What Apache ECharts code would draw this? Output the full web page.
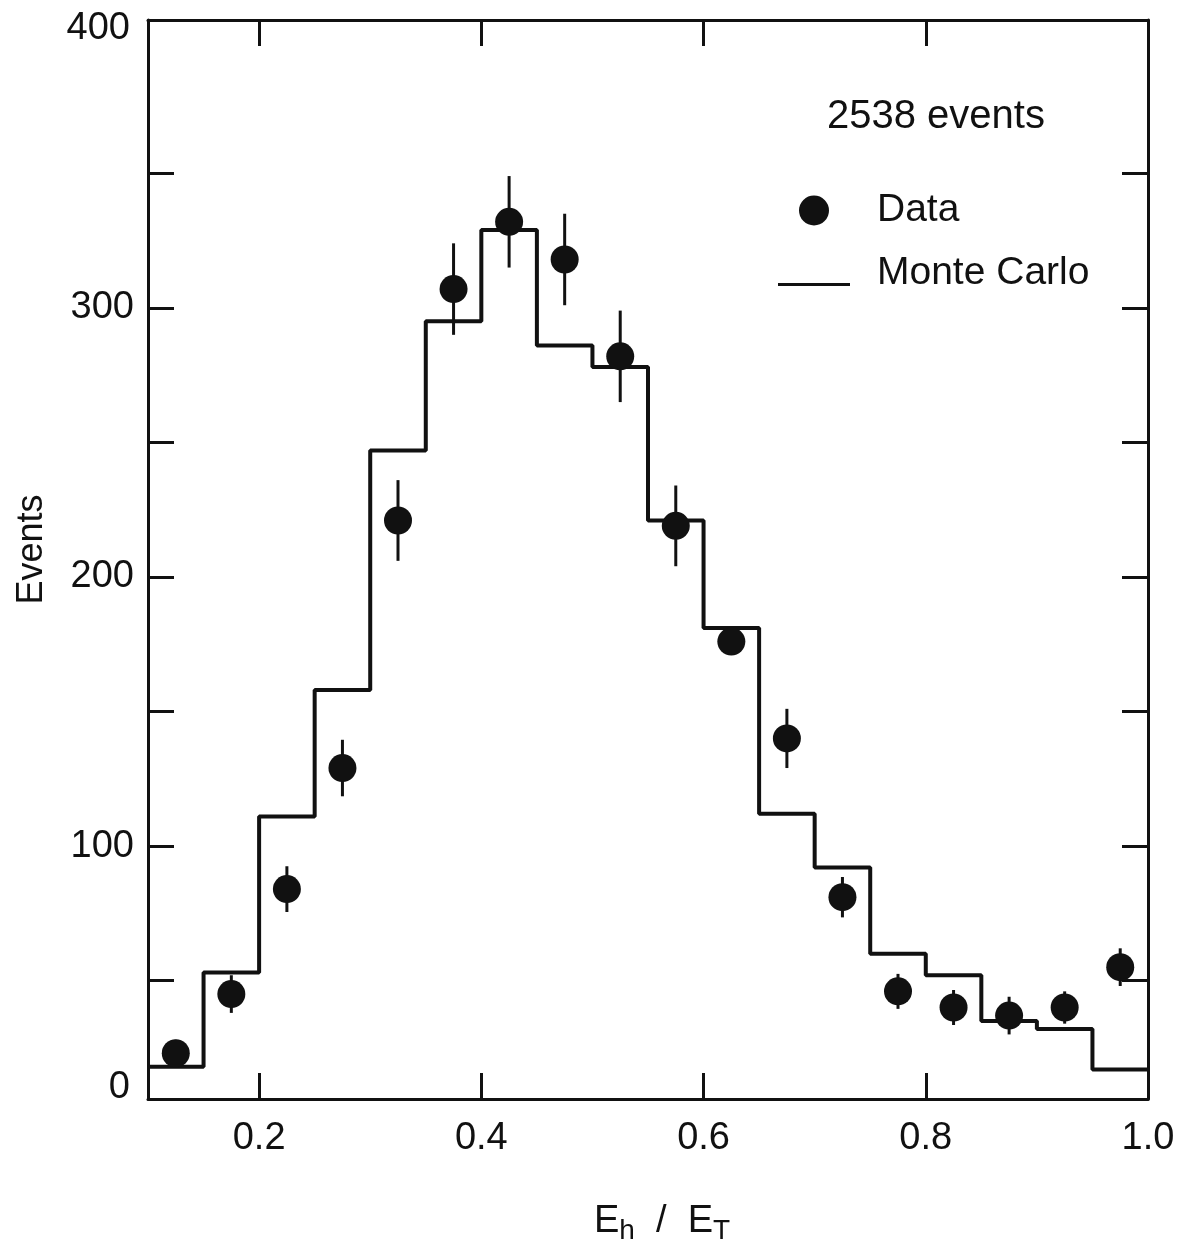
<!DOCTYPE html>
<html>
<head>
<meta charset="utf-8">
<script src="https://cdn.jsdelivr.net/npm/echarts@6/dist/echarts.min.js"></script>
<style>
html,body{margin:0;padding:0;background:#fff;}
#chart{width:1181px;height:1240px;}
</style>
</head>
<body>
<div id="chart"></div>
<script>
// Monte Carlo histogram: bin edges and counts per bin
const binEdges = [0.10,0.15,0.20,0.25,0.30,0.35,0.40,0.45,0.50,0.55,0.60,0.65,0.70,0.75,0.80,0.85,0.90,0.95,1.00];
const mcCounts = [18,53,111,158,247,295,329,286,278,221,181,112,92,60,52,35,32,17];
// Data points (bin centres), counts and error half-lengths
const dataX = [0.125,0.175,0.225,0.275,0.325,0.375,0.425,0.475,0.525,0.575,0.625,0.675,0.725,0.775,0.825,0.875,0.925,0.975];
const dataY = [23,45,84,129,221,307,332,318,282,219,176,140,81,46,40,37,40,55];
const dataErr = [5,7,8.5,10.5,15,17,17,17,17,15,5,11,7.5,6.5,6.5,7,6,7];
// Ticks and labels
const xTicks = [0.2,0.4,0.6,0.8];
const xLabels = [0.2,0.4,0.6,0.8,1.0];
const yTicks = [50,100,150,200,250,300,350];
const yLabels = [100,200,300];
const yEdgeLabels = [0,400];
const totalText = '2538 events';

const FONT = 'Liberation Sans';
const INK = '#111';

const mcLine = binEdges.map((e,i)=>[e, mcCounts[Math.min(i, mcCounts.length-1)]]);
const pts = dataX.map((x,i)=>[x, dataY[i], dataErr[i]]);

const chart = echarts.init(document.getElementById('chart'), null, {renderer:'canvas'});
const tickStyle = {show:true, inside:true, length:26, lineStyle:{color:INK, width:3}};
const lineStyle = {show:true, onZero:false, lineStyle:{color:INK, width:3}};
chart.setOption({
  animation:false,
  backgroundColor:'#fff',
  title:{
    text: totalText, left: 822, top: 92, padding:5,
    textStyle:{fontFamily:FONT, fontSize:40, fontWeight:'normal', color:INK}
  },
  legend:{
    orient:'vertical', left:773, top:186, itemWidth:72, itemHeight:30, itemGap:24,
    symbolKeepAspect:true,
    textStyle:{fontFamily:FONT, fontSize:39, color:INK, padding:[0,0,0,22]},
    data:[
      {name:'Data', icon:'circle'},
      {name:'Monte Carlo', icon:'path://M0,0 L0.01,0 L0.01,0.01 Z M0,22 L72,22 L72,25 L0,25 Z'}
    ]
  },
  grid:{left:148, right:33, top:20, bottom:141, outerBoundsMode:'none'},
  xAxis:[
    {type:'value', position:'bottom', min:0.1, max:1.0,
     axisLine:lineStyle, splitLine:{show:false},
     axisTick:Object.assign({customValues:xTicks}, tickStyle),
     axisLabel:{customValues:xLabels, formatter:v=>v.toFixed(1), fontFamily:FONT, fontSize:38, color:INK, margin:21},
     name:'E{s|h}  /  E{s|T}', nameLocation:'middle', nameGap:100,
     nameTextStyle:{fontFamily:FONT, fontSize:38, color:INK, padding:[0,0,0,28],
       rich:{s:{fontFamily:FONT, fontSize:28, color:INK, padding:[18,0,0,0]}}}
    },
    {type:'value', position:'top', min:0.1, max:1.0,
     axisLine:lineStyle, splitLine:{show:false},
     axisTick:Object.assign({customValues:xTicks}, tickStyle),
     axisLabel:{show:false}}
  ],
  yAxis:[
    {type:'value', position:'left', min:6, max:407,
     axisLine:lineStyle, splitLine:{show:false},
     axisTick:Object.assign({customValues:yTicks}, tickStyle),
     axisLabel:{customValues:yLabels, fontFamily:FONT, fontSize:38, color:INK, margin:14},
     name:'Events', nameLocation:'middle', nameGap:98,
     nameTextStyle:{fontFamily:FONT, fontSize:36, color:INK, padding:[0,0,0,20]}
    },
    {type:'value', position:'right', min:6, max:407,
     axisLine:lineStyle, splitLine:{show:false},
     axisTick:Object.assign({customValues:yTicks}, tickStyle),
     axisLabel:{show:false}},
    {type:'value', position:'left', min:-4.15, max:403.4,
     axisLine:{show:false, onZero:false}, axisTick:{show:false}, splitLine:{show:false},
     axisLabel:{customValues:yEdgeLabels, fontFamily:FONT, fontSize:38, color:INK, margin:18}}
  ],
  series:[
    {name:'Monte Carlo', type:'line', step:'end', data:mcLine, symbol:'none',
     xAxisIndex:0, yAxisIndex:0,
     lineStyle:{color:INK, width:4}, itemStyle:{color:INK}, z:3},
    {name:'Data', type:'scatter', data:pts, symbol:'circle', symbolSize:28,
     xAxisIndex:0, yAxisIndex:0,
     itemStyle:{color:INK, opacity:1}, z:5},
    {name:'errors', type:'custom', data:pts, xAxisIndex:0, yAxisIndex:0,
     encode:{x:0, y:1}, z:4,
     renderItem:(params, api)=>{
       const x = api.value(0), y = api.value(1), e = api.value(2);
       const a = api.coord([x, y+e]);
       const b = api.coord([x, y-e]);
       return {type:'line', shape:{x1:a[0], y1:a[1], x2:b[0], y2:b[1]},
               style:{stroke:INK, lineWidth:3}};
     }}
  ]
});
</script>
</body>
</html>
